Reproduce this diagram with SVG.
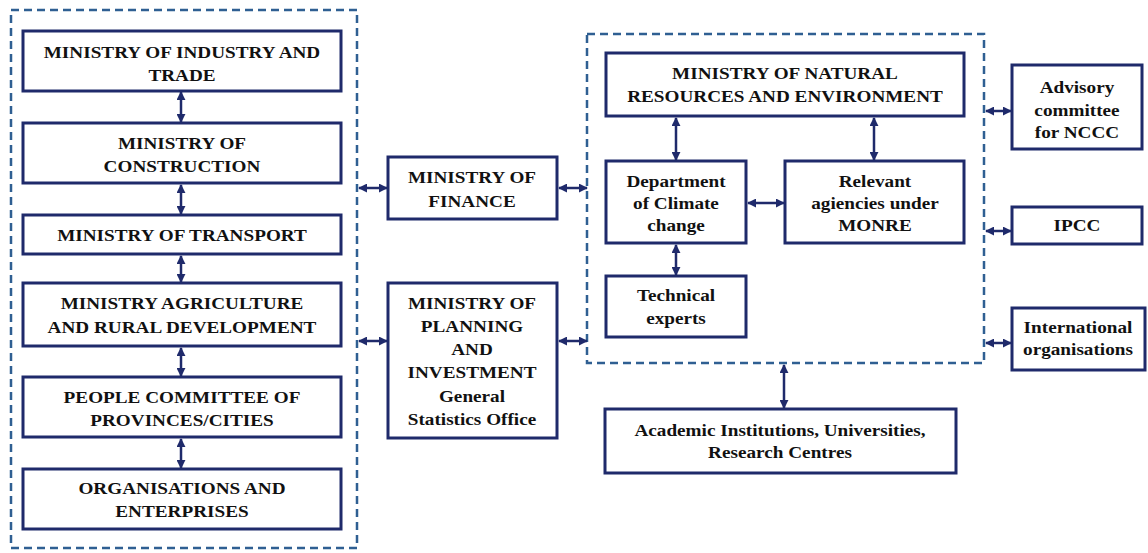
<svg xmlns="http://www.w3.org/2000/svg" width="1148" height="553" viewBox="0 0 1148 553">
<style>
.box{fill:#fff;stroke:#1f2a6b;stroke-width:3}
.grp{fill:none;stroke:#2f5f92;stroke-width:2.5;stroke-dasharray:8 5}
.c{fill:none;stroke:#1f2a6b;stroke-width:2.5;marker-start:url(#ah);marker-end:url(#ah)}
text{font-family:"Liberation Serif","Times New Roman",serif;font-weight:bold;font-size:17px;fill:#111;text-anchor:middle;transform-box:fill-box;transform-origin:center;transform:scaleX(1.13)}
</style>
<defs>
<marker id="ah" viewBox="0 0 10 10" refX="9" refY="5" markerWidth="9" markerHeight="9" markerUnits="userSpaceOnUse" orient="auto-start-reverse">
<path d="M0,0 L10,5 L0,10 z" fill="#1f2a6b"/>
</marker>
</defs>
<rect class="grp" x="11" y="10" width="346" height="538"/>
<rect class="grp" x="587" y="34" width="397" height="329"/>
<g id="connectors">
<line class="c" x1="181" y1="92" x2="181" y2="122"/>
<line class="c" x1="181" y1="185" x2="181" y2="214"/>
<line class="c" x1="181" y1="256" x2="181" y2="282"/>
<line class="c" x1="181" y1="348" x2="181" y2="376"/>
<line class="c" x1="181" y1="439" x2="181" y2="468"/>
<line class="c" x1="359" y1="188" x2="387" y2="188"/>
<line class="c" x1="359" y1="341" x2="387" y2="341"/>
<line class="c" x1="559" y1="188" x2="587" y2="188"/>
<line class="c" x1="559" y1="341" x2="587" y2="341"/>
<line class="c" x1="676" y1="118" x2="676" y2="160"/>
<line class="c" x1="874" y1="118" x2="874" y2="160"/>
<line class="c" x1="748" y1="203" x2="784" y2="203"/>
<line class="c" x1="676" y1="245" x2="676" y2="275"/>
<line class="c" x1="986" y1="111" x2="1011" y2="111"/>
<line class="c" x1="986" y1="231" x2="1011" y2="231"/>
<line class="c" x1="986" y1="343" x2="1011" y2="343"/>
<line class="c" x1="784" y1="365" x2="784" y2="408"/>
</g>
<g id="industry"><rect class="box" x="23" y="31" width="318" height="60"/><text x="182" y="58">MINISTRY  OF INDUSTRY AND</text><text x="182" y="81">TRADE</text></g>
<g id="construction"><rect class="box" x="23" y="123" width="318" height="60"/><text x="182" y="149">MINISTRY  OF</text><text x="182" y="172">CONSTRUCTION</text></g>
<g id="transport"><rect class="box" x="23" y="215" width="318" height="39"/><text x="182" y="241">MINISTRY OF TRANSPORT</text></g>
<g id="agriculture"><rect class="box" x="23" y="283" width="318" height="63"/><text x="182" y="309">MINISTRY  AGRICULTURE</text><text x="182" y="333">AND RURAL DEVELOPMENT</text></g>
<g id="people"><rect class="box" x="23" y="377" width="318" height="60"/><text x="182" y="403">PEOPLE COMMITTEE OF</text><text x="182" y="426">PROVINCES/CITIES</text></g>
<g id="organisations"><rect class="box" x="23" y="469" width="318" height="60"/><text x="182" y="494">ORGANISATIONS  AND</text><text x="182" y="517">ENTERPRISES</text></g>
<g id="finance"><rect class="box" x="388" y="157" width="169" height="62"/><text x="472" y="183">MINISTRY  OF</text><text x="472" y="207">FINANCE</text></g>
<g id="planning"><rect class="box" x="388" y="283" width="169" height="155"/><text x="472" y="309">MINISTRY  OF</text><text x="472" y="332">PLANNING</text><text x="472" y="355">AND</text><text x="472" y="378">INVESTMENT</text><text x="472" y="402">General</text><text x="472" y="425">Statistics Office</text></g>
<g id="monre"><rect class="box" x="606" y="53" width="358" height="63"/><text x="785" y="79">MINISTRY  OF NATURAL</text><text x="785" y="102">RESOURCES AND ENVIRONMENT</text></g>
<g id="climate"><rect class="box" x="606" y="161" width="140" height="82"/><text x="676" y="187">Department</text><text x="676" y="209">of Climate</text><text x="676" y="231">change</text></g>
<g id="relevant"><rect class="box" x="785" y="161" width="179" height="82"/><text x="875" y="187">Relevant</text><text x="875" y="209">agiencies under</text><text x="875" y="231">MONRE</text></g>
<g id="technical"><rect class="box" x="606" y="276" width="140" height="61"/><text x="676" y="301">Technical</text><text x="676" y="324">experts</text></g>
<g id="advisory"><rect class="box" x="1012" y="65" width="130" height="84"/><text x="1077" y="93">Advisory</text><text x="1077" y="116">committee</text><text x="1077" y="138">for NCCC</text></g>
<g id="ipcc"><rect class="box" x="1012" y="207" width="130" height="37"/><text x="1077" y="231">IPCC</text></g>
<g id="international"><rect class="box" x="1012" y="308" width="133" height="62"/><text x="1078" y="333">International</text><text x="1078" y="355">organisations</text></g>
<g id="academic"><rect class="box" x="605" y="409" width="351" height="64"/><text x="780" y="436">Academic Institutions,  Universities,</text><text x="780" y="458">Research Centres</text></g>
</svg>
